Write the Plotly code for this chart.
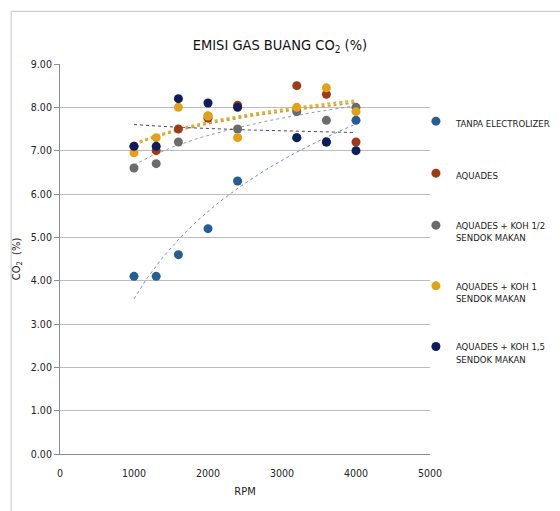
import numpy as np
import plotly.graph_objects as go

rpm = [1000, 1300, 1600, 2000, 2400, 3200, 3600, 4000]
tanpa = [4.1, 4.1, 4.6, 5.2, 6.3, 7.3, 7.2, 7.7]
aquades = [7.1, 7.0, 7.5, 7.75, 8.05, 8.5, 8.3, 7.2]
koh_half = [6.6, 6.7, 7.2, 7.8, 7.5, 7.9, 7.7, 8.0]
koh_1 = [6.95, 7.3, 8.0, 7.8, 7.3, 8.0, 8.45, 7.9]
koh_15 = [7.1, 7.1, 8.2, 8.1, 8.0, 7.3, 7.2, 7.0]

names = ["TANPA ELECTROLIZER", "AQUADES", "AQUADES + KOH 1/2<br>SENDOK MAKAN",
         "AQUADES + KOH 1<br>SENDOK MAKAN", "AQUADES + KOH 1,5<br>SENDOK MAKAN"]
series = [tanpa, aquades, koh_half, koh_1, koh_15]
colors = ["#245E92", "#9E3A16", "#6B6B6B", "#E3A11A", "#0F1D5C"]
trend_colors = ["#7A8FA8", "#C9A040", "#9A9AA8", "#E0B030", "#44485E"]
trend_widths = [1, 2, 1, 2.2, 1]

FONT = "DejaVu Sans Condensed, Liberation Sans Narrow, Open Sans, sans-serif"

fig = go.Figure()
xs = np.linspace(min(rpm), max(rpm), 100)
for vals, tc, tw in zip(series, trend_colors, trend_widths):
    a, b = np.polyfit(np.log(rpm), vals, 1)
    fig.add_trace(go.Scatter(x=xs, y=a * np.log(xs) + b, mode="lines",
                             line=dict(color=tc, width=tw, dash="dot"),
                             showlegend=False, hoverinfo="skip"))
for i, (n, vals, c) in enumerate(zip(names, series, colors)):
    fig.add_trace(go.Scatter(x=rpm, y=vals, mode="markers", name=n,
                             legendgroup=f"g{i}",
                             marker=dict(color=c, size=9)))

fig.update_layout(
    width=560, height=511,
    margin=dict(l=60, r=130, t=64, b=57, autoexpand=False),
    paper_bgcolor="white", plot_bgcolor="white",
    font=dict(family=FONT, size=10, color="#222"),
    title=dict(text="EMISI GAS BUANG CO<sub>2</sub> (%)", x=0.5, xanchor="center",
               y=0.912, yanchor="middle",
               font=dict(family=FONT, size=14.5, color="#111")),
    xaxis=dict(range=[0, 5000], dtick=1000, showgrid=False, zeroline=False,
               showline=True, linecolor="#8C8C8C", linewidth=1, ticks="",
               automargin=False, ticklabelstandoff=9,
               title=dict(text="RPM", standoff=9, font=dict(size=11)),
               tickfont=dict(size=10.5)),
    yaxis=dict(range=[0, 9], dtick=1, tickformat=".2f", showgrid=True,
               gridcolor="#BDBDBD", gridwidth=1.3, zeroline=False,
               showline=True, linecolor="#8C8C8C", linewidth=1,
               ticks="outside", ticklen=5, tickcolor="#8C8C8C",
               automargin=False,
               title=dict(text="CO<sub>2</sub>  (%)", standoff=8, font=dict(size=11)),
               tickfont=dict(size=10.5)),
    legend=dict(x=0.962, y=0.886, xanchor="left", yanchor="top",
                font=dict(family=FONT, size=9.5, color="#222"),
                tracegroupgap=33, itemwidth=30, valign="top",
                bgcolor="rgba(0,0,0,0)"),
    shapes=[
        dict(type="line", xref="paper", yref="paper", x0=-0.132, x1=1.5,
             y0=1.135, y1=1.135, line=dict(color="#D0D0D0", width=1.2)),
        dict(type="line", xref="paper", yref="paper", x0=-0.132, x1=-0.132,
             y0=1.135, y1=-0.2, line=dict(color="#D0D0D0", width=1.2)),
    ],
)
fig.write_html("out.html", config={"displayModeBar": False},
               post_script="document.body.style.margin='0';")
